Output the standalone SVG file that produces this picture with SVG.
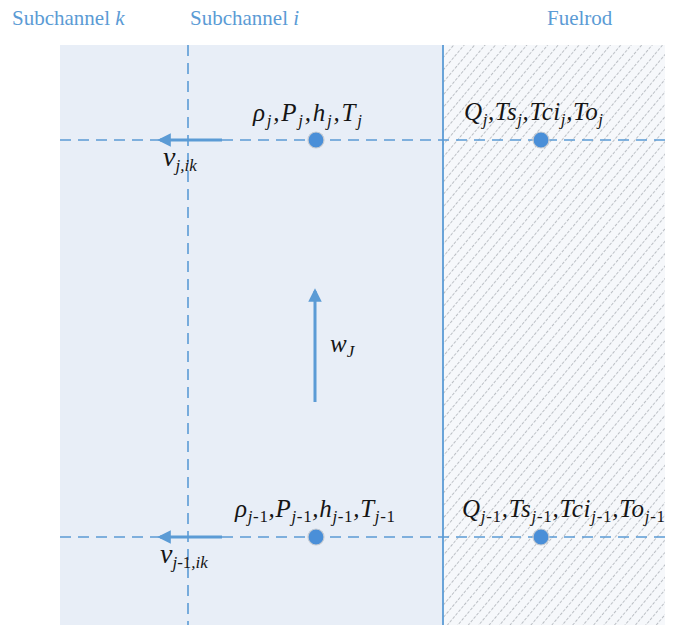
<svg xmlns="http://www.w3.org/2000/svg" width="678" height="625" viewBox="0 0 678 625">
<style>
.hdr{font-family:"Liberation Serif","Times New Roman",serif;font-size:21px;fill:#5b9bd5}
.m{font-family:"Liberation Serif","Times New Roman",serif;font-size:25px;font-style:italic;fill:#151515}
.big{font-size:28px}
.s{font-size:17px}
.n{font-style:normal}
.dash{stroke:#5b9bd5;stroke-width:1.6;stroke-dasharray:11 7;fill:none}
.node{fill:#4a8fd8;stroke:#c8ccd2;stroke-width:1.2}
.arr{stroke:#5b9bd5;stroke-width:3;fill:none}
</style>
<defs>
<pattern id="hatch" patternUnits="userSpaceOnUse" width="8" height="9" patternTransform="rotate(40)">
<line x1="0" y1="0" x2="0" y2="9" stroke="#80868e" stroke-width="1" stroke-dasharray="3 1.5"/>
</pattern>
<marker id="ah" viewBox="0 0 10 10" refX="8" refY="5" markerWidth="4.5" markerHeight="4.5" orient="auto" markerUnits="strokeWidth">
<path d="M0,0 L10,5 L0,10 z" fill="#5b9bd5"/>
</marker>
</defs>
<rect width="678" height="625" fill="#ffffff"/>
<g id="subchannel-region">
<rect x="60" y="45" width="383" height="580" fill="#e8eef7"/>
</g>
<g id="fuelrod-region">
<rect x="443" y="45" width="222" height="580" fill="#f6f8fb"/>
<rect x="443" y="45" width="222" height="580" fill="url(#hatch)"/>
</g>
<g id="headers">
<text class="hdr" x="12" y="25">Subchannel <tspan font-style="italic">k</tspan></text>
<text class="hdr" x="190" y="25">Subchannel <tspan font-style="italic">i</tspan></text>
<text class="hdr" x="547" y="25">Fuelrod</text>
</g>
<g id="connectors">
<line x1="443" y1="45" x2="443" y2="625" stroke="#5b9bd5" stroke-width="1.8"/>
<line class="dash" x1="188" y1="45" x2="188" y2="625"/>
<line class="dash" x1="60" y1="140" x2="667" y2="140"/>
<line class="dash" x1="60" y1="537" x2="667" y2="537"/>
<line class="arr" x1="222" y1="140" x2="160" y2="140" marker-end="url(#ah)"/>
<line class="arr" x1="222" y1="537" x2="160" y2="537" marker-end="url(#ah)"/>
<line class="arr" stroke-width="2.2" x1="315" y1="402" x2="315" y2="291" marker-end="url(#ah)"/>
</g>
<g id="node-i-j">
<circle class="node" cx="316" cy="140" r="8"/>
<text class="m" x="253" y="121" textLength="109" lengthAdjust="spacing">ρ<tspan class="s" dy="5">j</tspan><tspan dy="-5">,P</tspan><tspan class="s" dy="5">j</tspan><tspan dy="-5">,h</tspan><tspan class="s" dy="5">j</tspan><tspan dy="-5">,T</tspan><tspan class="s" dy="5">j</tspan></text>
</g>
<g id="node-rod-j">
<circle class="node" cx="541" cy="140" r="8"/>
<text class="m" x="464" y="120" textLength="139" lengthAdjust="spacing">Q<tspan class="s" dy="5">j</tspan><tspan dy="-5">,Ts</tspan><tspan class="s" dy="5">j</tspan><tspan dy="-5">,Tci</tspan><tspan class="s" dy="5">j</tspan><tspan dy="-5">,To</tspan><tspan class="s" dy="5">j</tspan></text>
</g>
<g id="node-i-j1">
<circle class="node" cx="316" cy="537" r="8"/>
<text class="m" x="235" y="517" textLength="160" lengthAdjust="spacing">ρ<tspan class="s" dy="5">j<tspan class="n">-1</tspan></tspan><tspan dy="-5">,P</tspan><tspan class="s" dy="5">j<tspan class="n">-1</tspan></tspan><tspan dy="-5">,h</tspan><tspan class="s" dy="5">j<tspan class="n">-1</tspan></tspan><tspan dy="-5">,T</tspan><tspan class="s" dy="5">j<tspan class="n">-1</tspan></tspan></text>
</g>
<g id="node-rod-j1">
<circle class="node" cx="541" cy="537" r="8"/>
<text class="m" x="462" y="517" textLength="203" lengthAdjust="spacing">Q<tspan class="s" dy="5">j<tspan class="n">-1</tspan></tspan><tspan dy="-5">,Ts</tspan><tspan class="s" dy="5">j<tspan class="n">-1</tspan></tspan><tspan dy="-5">,Tci</tspan><tspan class="s" dy="5">j<tspan class="n">-1</tspan></tspan><tspan dy="-5">,To</tspan><tspan class="s" dy="5">j<tspan class="n">-1</tspan></tspan></text>
</g>
<g id="labels">
<text class="m big" x="163" y="166">v<tspan class="s" dy="5">j,ik</tspan></text>
<text class="m big" x="160" y="563">v<tspan class="s" dy="5">j<tspan class="n">-1</tspan>,ik</tspan></text>
<text class="m" x="330" y="352">w<tspan class="s" dy="5">J</tspan></text>
</g>
</svg>
